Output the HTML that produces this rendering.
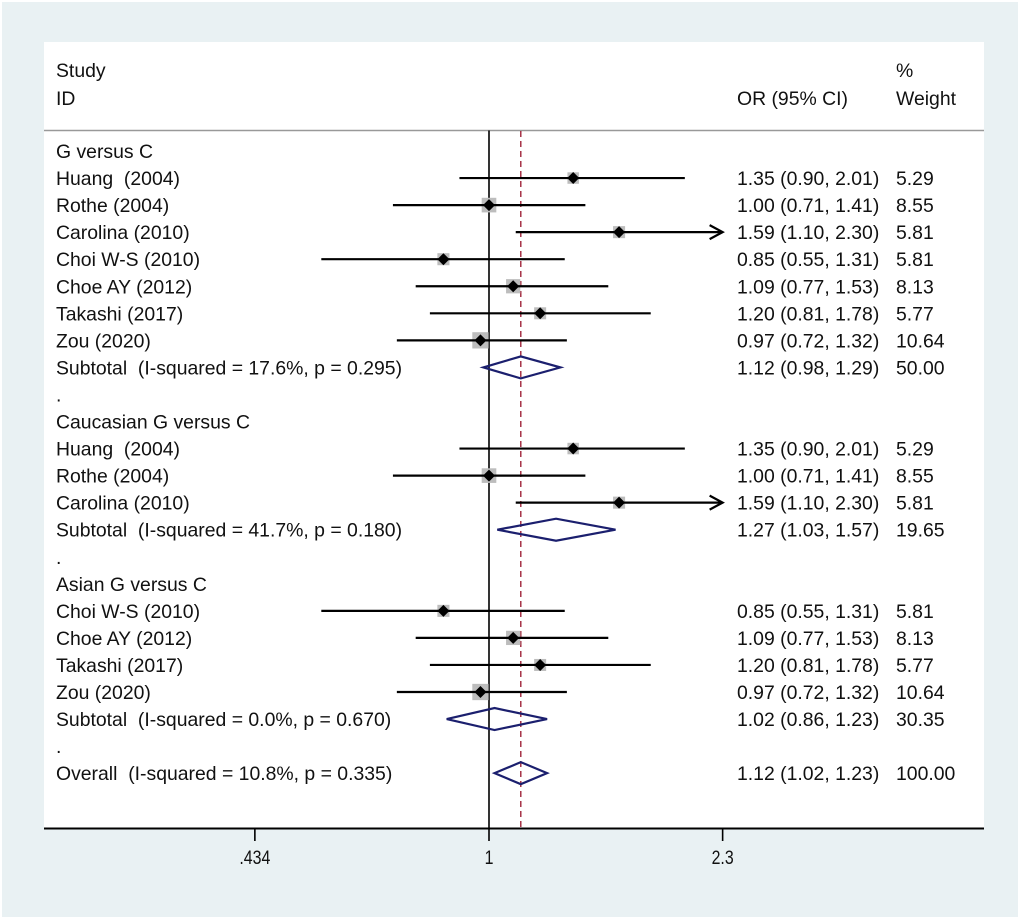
<!DOCTYPE html>
<html><head><meta charset="utf-8"><style>
html,body{margin:0;padding:0;background:#fff}
svg{display:block}
text{font-family:"Liberation Sans",Arial,sans-serif;font-size:19.4px;fill:#111;white-space:pre}
</style></head><body>
<svg width="1020" height="919" viewBox="0 0 1020 919">
<rect x="2" y="2" width="1016" height="915" fill="#e9f1f3"/>
<rect x="44" y="42" width="940" height="786" fill="#fff"/>
<g id="hdr">
<text x="56" y="77">Study</text>
<text x="56" y="105">ID</text>
<text x="737" y="105">OR (95% CI)</text>
<text x="896" y="77">%</text>
<text x="896" y="105">Weight</text>
<line x1="44" y1="130.5" x2="984" y2="130.5" stroke="#999" stroke-width="1.5"/>
</g>
<g id="plot"></g>
</svg>
<script>
const labels=["G versus C","Huang  (2004)","Rothe (2004)","Carolina (2010)","Choi W-S (2010)","Choe AY (2012)","Takashi (2017)","Zou (2020)","Subtotal  (I-squared = 17.6%, p = 0.295)",".","Caucasian G versus C","Huang  (2004)","Rothe (2004)","Carolina (2010)","Subtotal  (I-squared = 41.7%, p = 0.180)",".","Asian G versus C","Choi W-S (2010)","Choe AY (2012)","Takashi (2017)","Zou (2020)","Subtotal  (I-squared = 0.0%, p = 0.670)",".","Overall  (I-squared = 10.8%, p = 0.335)"];
const kinds=["h","s","s","s","s","s","s","s","d","h","h","s","s","s","d","h","h","s","s","s","s","d","h","d"];
const ors=[null,1.35,1.00,1.59,0.85,1.09,1.20,0.97,1.12,null,null,1.35,1.00,1.59,1.27,null,null,0.85,1.09,1.20,0.97,1.02,null,1.12];
const lows=[null,0.90,0.71,1.10,0.55,0.77,0.81,0.72,0.98,null,null,0.90,0.71,1.10,1.03,null,null,0.55,0.77,0.81,0.72,0.86,null,1.02];
const highs=[null,2.01,1.41,2.30,1.31,1.53,1.78,1.32,1.29,null,null,2.01,1.41,2.30,1.57,null,null,1.31,1.53,1.78,1.32,1.23,null,1.23];
const weights=[null,5.29,8.55,5.81,5.81,8.13,5.77,10.64,50.00,null,null,5.29,8.55,5.81,19.65,null,null,5.81,8.13,5.77,10.64,30.35,null,100.00];
const ticks=[0.434,1,2.3];
const tickLabels=[".434","1","2.3"];
const pooled=1.12;

const NS="http://www.w3.org/2000/svg";
const g=document.getElementById('plot');
const X=v=>489+280.5*Math.log(v);
const Y=i=>151+i*27.05;
const xMax=X(2.3);
function mk(t,a){const e=document.createElementNS(NS,t);for(const k in a)e.setAttribute(k,a[k]);g.appendChild(e);return e;}
const f2=v=>v.toFixed(2);

let e=mk('line',{x1:X(1),y1:130.5,x2:X(1),y2:828,stroke:'#000','stroke-width':1.6});


e=mk('line',{x1:X(pooled),y1:131,x2:X(pooled),y2:828,stroke:'#a0243a','stroke-width':1.4,'stroke-dasharray':'6,4'});


e=mk('line',{x1:44,y1:828.5,x2:984,y2:828.5,stroke:'#000','stroke-width':2});


ticks.forEach((t,i)=>{
 let l=mk('line',{x1:X(t),y1:828,x2:X(t),y2:841,stroke:'#000','stroke-width':1.6});
 
 
 let tx=mk('text',{x:X(t),y:864,'text-anchor':'middle','font-size':20,transform:`translate(${X(t)},0) scale(0.82,1) translate(${-X(t)},0)`});
 tx.textContent=tickLabels[i];
 
 
});

labels.forEach((lab,i)=>{
 const y=Y(i);
 let t=mk('text',{x:56,y:y+7});
 t.textContent=lab;
 
 
 if(ors[i]==null)return;
 let o=mk('text',{x:737,y:y+7});
 o.textContent=f2(ors[i])+' ('+f2(lows[i])+', '+f2(highs[i])+')';
 
 
 let w=mk('text',{x:896,y:y+7});
 w.textContent=f2(weights[i]);
 
 
 if(kinds[i]=='s'){
  const s=5*Math.sqrt(weights[i]);
  let sq=mk('rect',{x:X(ors[i])-s/2,y:y-s/2,width:s,height:s,fill:'#bdbdbd'});
  
  
  const hi=Math.min(X(highs[i]),xMax);
  let ci=mk('line',{x1:X(lows[i]),y1:y,x2:hi,y2:y,stroke:'#000','stroke-width':2.2});
  
  
  if(highs[i]>=2.3){
   let a=mk('polyline',{points:`${hi-13},${y-7} ${hi},${y} ${hi-13},${y+7}`,fill:'none',stroke:'#000','stroke-width':2.2});
   
   
  }
  const c=X(ors[i]);
  let d=mk('polygon',{points:`${c},${y-6} ${c+6},${y} ${c},${y+6} ${c-6},${y}`,fill:'#000'});
  
  
 } else {
  const c=X(ors[i]),l=X(lows[i]),h=X(highs[i]);
  let d=mk('polygon',{points:`${l},${y} ${c},${y-11} ${h},${y} ${c},${y+11}`,fill:'none',stroke:'#1b1f6e','stroke-width':2.2});
  
  
 }
});
</script>
</body></html>
